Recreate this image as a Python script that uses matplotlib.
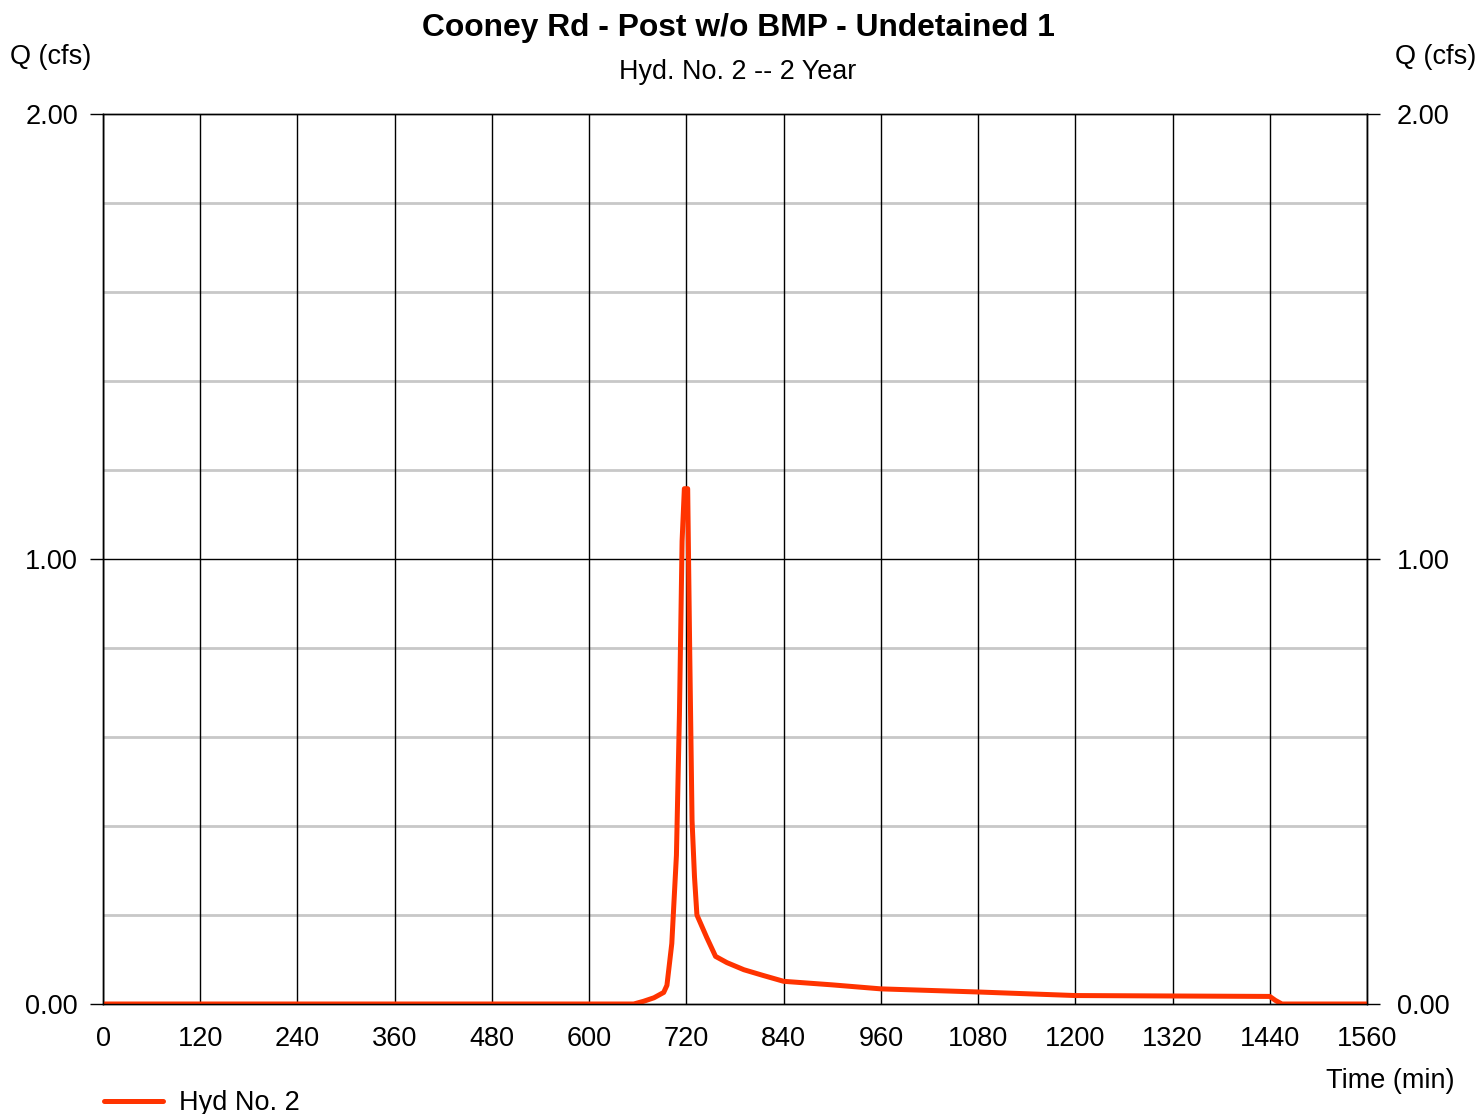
import matplotlib
matplotlib.use("Agg")
import matplotlib.pyplot as plt
import numpy as np

plt.rcParams['font.family'] = ['Liberation Sans', 'DejaVu Sans']

# hydrograph (time in min, flow in cfs)
time_min = [0, 655, 667, 680, 692, 696, 702, 707.7, 711.4, 714.7, 717.5, 721.6,
            724, 727, 730, 733, 745, 756, 770, 791, 815, 840, 900, 960, 1080,
            1200, 1320, 1440, 1447, 1455, 1560]
flow_cfs = [0, 0, 0.006, 0.014, 0.026, 0.042, 0.136, 0.334, 0.649, 1.04, 1.158, 1.158,
            0.807, 0.412, 0.286, 0.2, 0.15, 0.107, 0.093, 0.077, 0.064, 0.051, 0.043,
            0.034, 0.027, 0.019, 0.018, 0.017, 0.008, 0, 0]

x_ticks = np.arange(0, 1561, 120)
y_major = [0, 1, 2]
y_minor = [0.2, 0.4, 0.6, 0.8, 1.2, 1.4, 1.6, 1.8]

W, H = 1476, 1114
fs = 19.5
fig = plt.figure(figsize=(W / 100, H / 100), dpi=100)
ax = fig.add_axes([103 / W, 1 - 1004 / H, (1367 - 103) / W, (1004 - 114) / H])

ax.set_xlim(0, 1560)
ax.set_ylim(0, 2)
ax.set_axisbelow(True)

# grid: gray minor rows, black columns and 1.00 row
for v in y_minor:
    ax.axhline(v, color='#c8c8c8', lw=2, zorder=0)
ax.axhline(1.0, color='black', lw=1, zorder=0.5)
for v in x_ticks:
    ax.axvline(v, color='black', lw=1, zorder=0.5)

ax.plot(time_min, flow_cfs, color='#ff3300', lw=3.6, solid_capstyle='round',
        solid_joinstyle='round', label='Hyd No. 2', zorder=3)

for s in ax.spines.values():
    s.set_linewidth(1)
    s.set_color('black')

ax.set_xticks(x_ticks)
ax.set_xticklabels([str(v) for v in x_ticks])
ax.set_yticks(y_major)
ax.set_yticklabels(['%.2f' % v for v in y_major])
ax.tick_params(axis='x', length=0, pad=15.5, labelsize=fs)
ax.tick_params(axis='y', length=9.4, width=1, pad=8.6, labelsize=fs)

# right-hand scale
ax2 = ax.twinx()
ax2.set_ylim(0, 2)
ax2.set_yticks(y_major)
ax2.set_yticklabels(['%.2f' % v for v in y_major])
ax2.tick_params(axis='y', length=9.4, width=1, pad=12, labelsize=fs)
for s in ax2.spines.values():
    s.set_linewidth(1)

fig.text(0.5, 1 - 28 / H, 'Cooney Rd - Post w/o BMP - Undetained 1', ha='center',
         va='center', fontsize=22.9, fontweight='bold')
fig.text(0.5, 1 - 72 / H, 'Hyd. No. 2 -- 2 Year', ha='center', va='center', fontsize=19.4)
fig.text(10 / W, 1 - 57 / H, 'Q (cfs)', ha='left', va='center', fontsize=fs)
fig.text(1476 / W, 1 - 57 / H, 'Q (cfs)', ha='right', va='center', fontsize=fs)
fig.text(1455 / W, 1 - 1081 / H, 'Time (min)', ha='right', va='center', fontsize=fs)

fig.legend(loc='center left', bbox_to_anchor=(90 / W, 1 - 1103 / H), frameon=False,
           fontsize=fs, handlelength=2.2, handletextpad=0.58, borderpad=0)

fig.savefig('out.png', dpi=100)
